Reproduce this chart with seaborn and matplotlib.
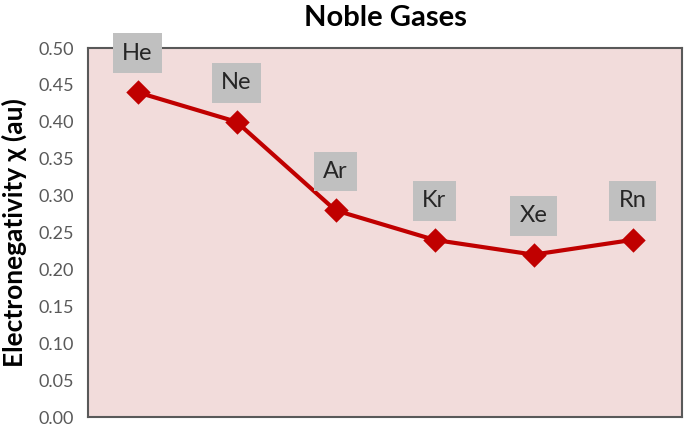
import matplotlib
matplotlib.use("Agg")
import matplotlib.pyplot as plt
import seaborn as sns
import pandas as pd

elements = ["He", "Ne", "Ar", "Kr", "Xe", "Rn"]
electronegativity = [0.44, 0.40, 0.28, 0.24, 0.22, 0.24]
y_ticks = [0.00, 0.05, 0.10, 0.15, 0.20, 0.25, 0.30, 0.35, 0.40, 0.45, 0.50]

sns.set_theme(style="white")
plt.rcParams["font.family"] = ["Lato", "DejaVu Sans"]

df = pd.DataFrame({"element": elements, "value": electronegativity})

fig = plt.figure(figsize=(6.85, 4.26), dpi=100)
ax = fig.add_axes([88 / 685, 9 / 426, 594 / 685, 369 / 426])
ax.set_facecolor("#f2dcdb")

sns.pointplot(data=df, x="element", y="value", color="#c00000",
              markers="D", linestyles="-", ax=ax,
              markersize=10, linewidth=3)

for i, (el, v) in enumerate(zip(elements, electronegativity)):
    ax.annotate(el, xy=(i, v), xytext=(0, 28), textcoords="offset points",
                ha="center", va="center", fontsize=17, color="#262626",
                bbox=dict(boxstyle="square,pad=0.4", fc="#c0c0c0", ec="none"))

ax.set_xlim(-0.5, 5.5)
ax.set_ylim(0, 0.5)
ax.set_yticks(y_ticks)
ax.set_yticklabels([f"{t:.2f}" for t in y_ticks])
ax.set_xticks([])
ax.set_xlabel("")
ax.set_ylabel("Electronegativity χ (au)", fontsize=19, fontweight="bold",
              color="black", labelpad=8)
ax.tick_params(axis="y", length=0, pad=10, labelsize=13, labelcolor="#595959")
for s in ax.spines.values():
    s.set_color("#595959")
    s.set_linewidth(1.5)

fig.text((88 + 682) / 2 / 685, 1 - 18 / 426, "Noble Gases", ha="center",
         va="center", fontsize=21, fontweight="bold", color="black")

fig.savefig("out.png", dpi=100)
